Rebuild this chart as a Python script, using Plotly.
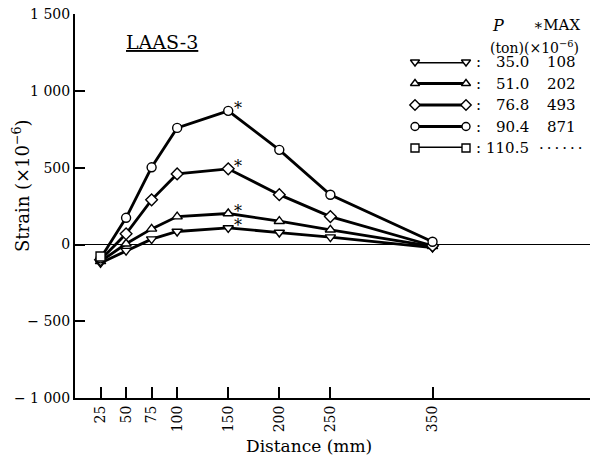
import plotly.graph_objects as go

# ---------------- data ----------------
distances = [25, 50, 75, 100, 150, 200, 250, 350]
strain_35_0 = [-120, -40, 35, 85, 108, 78, 48, -20]
strain_51_0 = [-110, 5, 102, 182, 202, 152, 96, -12]
strain_76_8 = [-100, 70, 291, 460, 493, 325, 182, -8]
strain_90_4 = [-90, 174, 503, 760, 871, 617, 324, 18]
distances_110_5 = [25]
strain_110_5 = [-78]

loads = ["35.0", "51.0", "76.8", "90.4", "110.5"]
max_values = ["108", "202", "493", "871", "·\u2009·\u2009·\u2009·\u2009·\u2009·"]
symbols = ["triangle-down", "triangle-up", "diamond", "circle", "square"]

x_ticks = [25, 50, 75, 100, 150, 200, 250, 350]
y_ticks = [-1000, -500, 0, 500, 1000, 1500]
y_tick_text = ["− 1 000", "− 500", "0", "500", "1 000", "1 500"]

FONT = "DejaVu Serif"
# the page margin is removed (see post_script) so the figure fills the window
W, H = 592, 457
ML, MR, MT, MB = 75, 2, 14, 59
PW, PH = W - ML - MR, H - MT - MB


def px(x):  # window pixel -> paper x
    return (x - ML) / PW


def py(y):  # window pixel -> paper y
    return (H - MB - y) / PH


fig = go.Figure()

series = [
    (distances, strain_35_0, symbols[0]),
    (distances, strain_51_0, symbols[1]),
    (distances, strain_76_8, symbols[2]),
    (distances, strain_90_4, symbols[3]),
    (distances_110_5, strain_110_5, symbols[4]),
]
for xs, ys, sym in series:
    fig.add_trace(go.Scatter(
        x=xs, y=ys, mode="lines+markers",
        line=dict(color="black", width=2.8),
        marker=dict(symbol=sym, size=9, color="white",
                    line=dict(color="black", width=1.4)),
        cliponaxis=False, showlegend=False, hoverinfo="skip"))

# asterisks at maxima
for ys in [strain_35_0, strain_51_0, strain_76_8, strain_90_4]:
    i = ys.index(max(ys))
    fig.add_annotation(x=distances[i], y=ys[i], xref="x", yref="y",
                       text="*", showarrow=False, xshift=10, yshift=2,
                       font=dict(family=FONT, size=16, color="black"))

# legend drawn on an inset axis
for row, sym in enumerate(symbols):
    fig.add_trace(go.Scatter(
        x=[0, 1], y=[row, row], xaxis="x2", yaxis="y2",
        mode="lines+markers",
        line=dict(color="black", width=2.8),
        marker=dict(symbol=sym, size=8, color="white",
                    line=dict(color="black", width=1.4)),
        cliponaxis=False, showlegend=False, hoverinfo="skip"))
    fig.add_annotation(x=px(478), y=row, xref="paper", yref="y2", text=":",
                       showarrow=False, xanchor="center", yanchor="middle",
                       font=dict(family=FONT, size=15, color="black"))
    fig.add_annotation(x=px(531), y=row, xref="paper", yref="y2", text=loads[row],
                       showarrow=False, xanchor="right", yanchor="middle",
                       font=dict(family=FONT, size=15, color="black"))
    fig.add_annotation(x=px(545 if row < 4 else 537), y=row, xref="paper", yref="y2",
                       text=max_values[row],
                       showarrow=False, xanchor="left", yanchor="middle",
                       font=dict(family=FONT, size=15, color="black"))

# legend header
fig.add_annotation(x=px(498), y=py(25), xref="paper", yref="paper", text="<i>P</i>",
                   showarrow=False, xanchor="center", yanchor="middle",
                   font=dict(family=FONT, size=16, color="black"))
fig.add_annotation(x=px(556), y=py(25), xref="paper", yref="paper", text="∗MAX",
                   showarrow=False, xanchor="center", yanchor="middle",
                   font=dict(family=FONT, size=15, color="black"))
fig.add_annotation(x=px(534), y=py(47), xref="paper", yref="paper",
                   text="(ton)(×10<sup>−6</sup>)",
                   showarrow=False, xanchor="center", yanchor="middle",
                   font=dict(family=FONT, size=14, color="black"))

# title label
fig.add_annotation(x=px(162), y=py(42), xref="paper", yref="paper", text="<u>LAAS-3</u>",
                   showarrow=False, xanchor="center", yanchor="middle",
                   font=dict(family=FONT, size=19, color="black"))

# axis titles
fig.add_annotation(x=px(309), y=py(446), xref="paper", yref="paper", text="Distance (mm)",
                   showarrow=False, xanchor="center", yanchor="middle",
                   font=dict(family=FONT, size=17, color="black"))
fig.add_annotation(x=px(21), y=py(186), xref="paper", yref="paper",
                   text="Strain (×10<sup>−6</sup>)", textangle=-90,
                   showarrow=False, xanchor="center", yanchor="middle",
                   font=dict(family=FONT, size=18, color="black"))

fig.update_layout(
    width=W, height=H,
    margin=dict(l=ML, r=MR, t=MT, b=MB, autoexpand=False),
    paper_bgcolor="white", plot_bgcolor="white",
    font=dict(family=FONT, size=14, color="black"),
    xaxis=dict(range=[0, PW / 1.0215], tickvals=x_ticks, ticktext=[str(v) for v in x_ticks],
               tickangle=-90, ticks="inside", ticklen=11, tickwidth=1.5, tickcolor="black",
               showline=True, linecolor="black", linewidth=2, showgrid=False, zeroline=False,
               automargin=False, ticklabeloverflow="allow", tickfont=dict(family=FONT, size=14)),
    yaxis=dict(range=[-1000, 1502], tickvals=y_ticks, ticktext=y_tick_text,
               ticks="inside", ticklen=10, tickwidth=1.5, tickcolor="black",
               showline=True, linecolor="black", linewidth=2, showgrid=False,
               zeroline=True, zerolinecolor="black", zerolinewidth=1,
               automargin=False, ticklabeloverflow="allow", tickfont=dict(family=FONT, size=14)),
    xaxis2=dict(domain=[px(415), px(466)], range=[0, 1], anchor="y2", visible=False),
    yaxis2=dict(domain=[py(148), py(62)], range=[4, 0], anchor="x2", visible=False),
)

fig.write_html("out.html", config={"displayModeBar": False},
               post_script="document.body.style.margin='0';document.body.style.overflow='hidden';")
